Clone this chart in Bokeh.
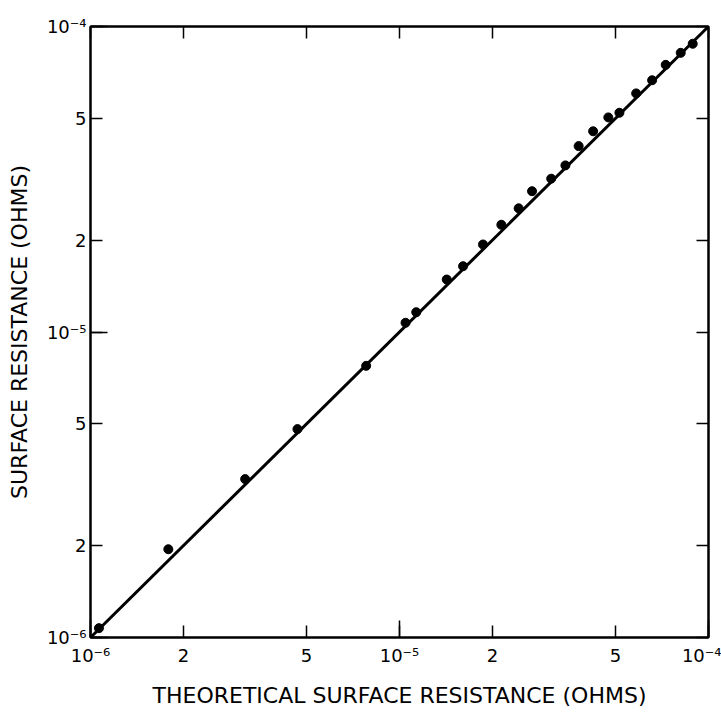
from bokeh.plotting import figure
from bokeh.models import FixedTicker, LogAxis
from bokeh.embed import file_html
from bokeh.resources import INLINE

# Measured data (theoretical vs measured surface resistance, ohms)
theoretical = [1.065e-6, 1.786e-6, 3.166e-6, 4.675e-6, 7.80e-6, 1.046e-5, 1.133e-5,
               1.422e-5, 1.606e-5, 1.863e-5, 2.136e-5, 2.43e-5, 2.685e-5, 3.097e-5,
               3.443e-5, 3.80e-5, 4.233e-5, 4.74e-5, 5.148e-5, 5.833e-5, 6.57e-5,
               7.27e-5, 8.13e-5, 8.89e-5]
measured = [1.073e-6, 1.945e-6, 3.30e-6, 4.81e-6, 7.75e-6, 1.072e-5, 1.161e-5,
            1.485e-5, 1.642e-5, 1.934e-5, 2.244e-5, 2.54e-5, 2.89e-5, 3.176e-5,
            3.51e-5, 4.06e-5, 4.54e-5, 5.04e-5, 5.22e-5, 6.04e-5, 6.67e-5,
            7.49e-5, 8.20e-5, 8.78e-5]

# Theory line y = x
line_x = [1e-6, 1e-4]
line_y = [1e-6, 1e-4]

tick_values = [1e-6, 2e-6, 5e-6, 1e-5, 2e-5, 5e-5, 1e-4]
tick_labels = ["10\u207b\u2076", "2", "5", "10\u207b\u2075", "2", "5", "10\u207b\u2074"]
decade_ticks = [1e-6, 1e-5, 1e-4]

x_title = "THEORETICAL SURFACE RESISTANCE (OHMS)"
y_title = "SURFACE RESISTANCE (OHMS)"

FONT = "DejaVu Sans"

p = figure(x_axis_type="log", y_axis_type="log",
           x_range=(1e-6, 1e-4), y_range=(1e-6, 1e-4),
           frame_width=618, frame_height=611,
           min_border_left=90, min_border_right=13,
           min_border_top=26, min_border_bottom=79,
           output_backend="svg", toolbar_location=None,
           background_fill_color="white", border_fill_color="white")

p.xgrid.visible = False
p.ygrid.visible = False
p.outline_line_color = "black"
p.outline_line_width = 2

bottom_axis = p.below[0]
left_axis = p.left[0]

overrides = {v: l for v, l in zip(tick_values, tick_labels)}

# mirrored tick marks on top and right (no labels)
top_axis = LogAxis()
right_axis = LogAxis()
p.add_layout(top_axis, "above")
p.add_layout(right_axis, "right")
for ax in [top_axis, right_axis]:
    ax.ticker = FixedTicker(ticks=[], minor_ticks=tick_values)
    ax.minor_tick_in = 12
    ax.minor_tick_out = 0
    ax.minor_tick_line_width = 1.5
    ax.minor_tick_line_color = "black"
    ax.major_tick_in = 0
    ax.major_tick_out = 0
    ax.major_label_standoff = 0
    ax.axis_line_color = "black"
    ax.axis_line_width = 2

for ax in [bottom_axis, left_axis]:
    ax.ticker = FixedTicker(ticks=tick_values, minor_ticks=decade_ticks)
    ax.major_tick_in = 12
    ax.major_tick_out = 0
    ax.minor_tick_in = 17
    ax.minor_tick_out = 0
    ax.major_tick_line_width = 1.5
    ax.minor_tick_line_width = 1.5
    ax.major_tick_line_color = "black"
    ax.minor_tick_line_color = "black"
    ax.axis_line_color = "black"
    ax.axis_line_width = 2
    ax.major_label_overrides = overrides
    ax.major_label_text_font = FONT
    ax.major_label_text_font_size = "18px"
    ax.major_label_text_color = "black"
    ax.axis_label_text_font = FONT
    ax.axis_label_text_font_size = "22px"
    ax.axis_label_text_font_style = "normal"
    ax.axis_label_text_color = "black"

bottom_axis.axis_label = x_title
bottom_axis.major_label_standoff = 7
bottom_axis.axis_label_standoff = 14
left_axis.axis_label = y_title
left_axis.major_label_standoff = 4
left_axis.axis_label_standoff = 12

p.line(line_x, line_y, line_color="black", line_width=3)
p.scatter(theoretical, measured, size=9, color="black")

open("out.html", "w").write(file_html(p, INLINE))
